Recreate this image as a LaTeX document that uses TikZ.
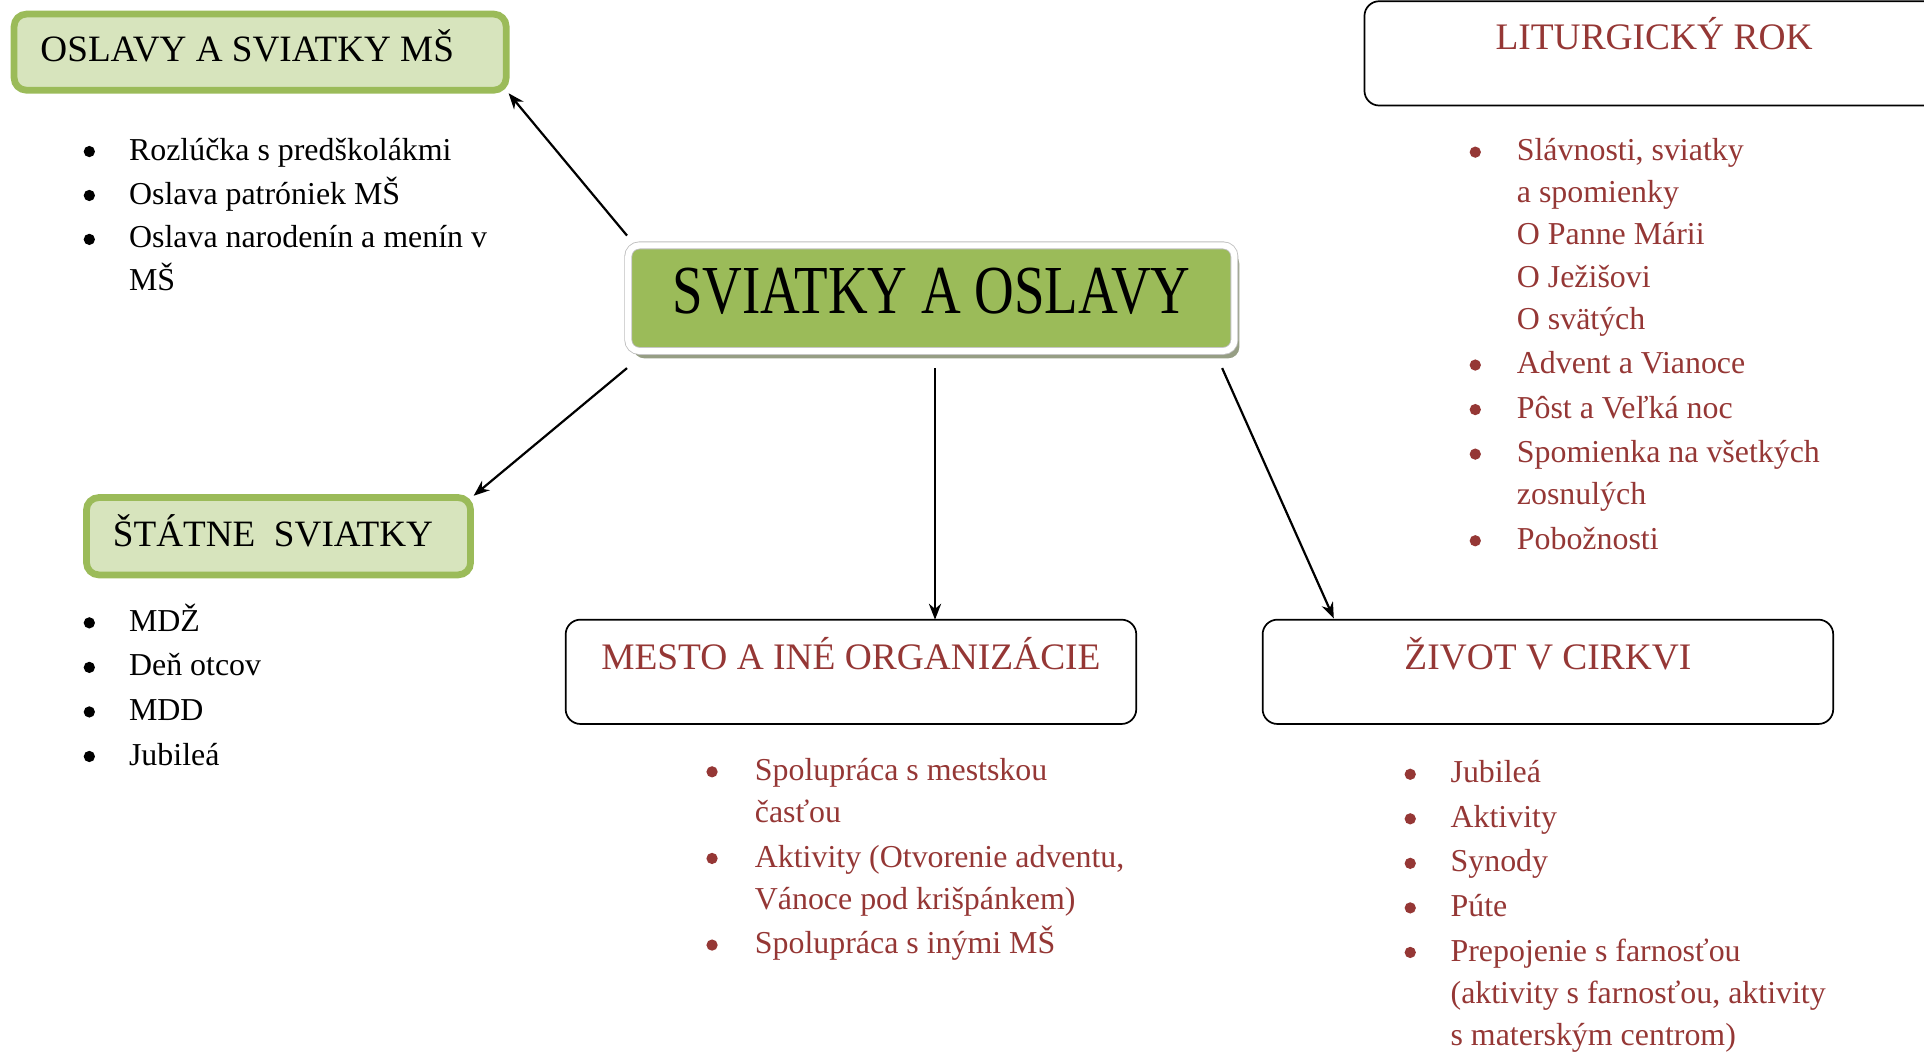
\documentclass[tikz,border=0pt]{standalone}
\usepackage{fontspec}
\setmainfont{Liberation Serif}
\newfontfamily\condensedfont[FakeStretch=0.8]{Liberation Serif}
\usetikzlibrary{shadows,arrows.meta}

\definecolor{accgreen}{RGB}{155,187,89}
\definecolor{palegreen}{RGB}{215,228,189}
\definecolor{darkred}{RGB}{149,55,53}
\definecolor{shadowgray}{RGB}{150,158,132}

\newcommand{\bul}{\tikz[baseline=0pt]\fill (0pt,7pt) circle (4.6pt);}

\tikzset{
	greenbox/.style={draw=accgreen, fill=palegreen, line width=5.5pt, rounded corners=10pt, anchor=north west, inner xsep=21.5pt, inner ysep=0pt, outer sep=0pt, font=\fontsize{30.3}{36}\selectfont},
	whitebox/.style={draw=black, line width=1.4pt, rounded corners=12pt, anchor=north west, inner sep=0pt, outer sep=0pt, text=darkred, font=\fontsize{30.5}{36}\selectfont},
	mainbox/.style={draw=black!25, double=white, double distance=5pt, line width=0.7pt, fill=accgreen, rounded corners=9pt, inner sep=0pt, outer sep=0pt, minimum width=494pt, drop shadow={shadow xshift=4pt, shadow yshift=-6pt, fill=shadowgray, opacity=1}, font=\condensedfont\fontsize{56}{60}\selectfont},
	itemlist/.style={anchor=base west, inner sep=0pt, font=\fontsize{26}{34.3}\selectfont},
	arr/.style={->, >={Stealth[length=13pt, width=10pt]}, line width=1.8pt},
}

\begin{document}
\begin{tikzpicture}[x=1pt, y=-1pt]
	\clip (0,0) rectangle (1568,857);
	% central node
	\node[mainbox, text height=55.5pt, text depth=30.5pt] (main) at (759,243) {SVIATKY A OSLAVY};

	% green boxes on the left
	\node[greenbox, text height=38.5pt, text depth=23.5pt] (oslavy) at (11.5,11.5) {\makebox[358pt][l]{OSLAVY A SVIATKY MŠ}};
	\node[greenbox, text height=40pt, text depth=23pt] (statne) at (70.5,405.5) {\makebox[270pt][l]{ŠTÁTNE\ \ SVIATKY}};

	% white boxes
	\node[whitebox, minimum width=472pt, text height=39.6pt, text depth=45.4pt] (liturgia) at (1112,1) {LITURGICKÝ ROK};
	\node[whitebox, minimum width=465pt, text height=41pt, text depth=44pt] (mesto) at (461,505) {MESTO A INÉ ORGANIZÁCIE};
	\node[whitebox, minimum width=465pt, text height=41pt, text depth=44pt] (zivot) at (1029,505) {ŽIVOT V CIRKVI};

	% lists
	\node[itemlist] (oslavyList) at (68,130.5) {\begin{tabular}[t]{@{}p{37pt}@{}l@{}}
		\bul & Rozlúčka s predškolákmi\\[1.5pt]
		\bul & Oslava patróniek MŠ\\[1.5pt]
		\bul & Oslava narodenín a menín v\\
		& MŠ
	\end{tabular}};
	\node[itemlist] (statneList) at (68,514.6) {\begin{tabular}[t]{@{}p{37pt}@{}l@{}}
		\bul & MDŽ\\[2pt]
		\bul & Deň otcov\\[2pt]
		\bul & MDD\\[2pt]
		\bul & Jubileá
	\end{tabular}};
	\node[itemlist, text=darkred] (liturgiaList) at (1197.5,131) {\begin{tabular}[t]{@{}p{38.5pt}@{}l@{}}
		\bul & Slávnosti, sviatky\\
		& a spomienky\\
		& O Panne Márii\\
		& O Ježišovi\\
		& O svätých\\[2pt]
		\bul & Advent a Vianoce\\[2pt]
		\bul & Pôst a Veľká noc\\[2pt]
		\bul & Spomienka na všetkých\\
		& zosnulých\\[2pt]
		\bul & Pobožnosti
	\end{tabular}};
	\node[itemlist, text=darkred] (mestoList) at (575.5,636) {\begin{tabular}[t]{@{}p{39.5pt}@{}l@{}}
		\bul & Spolupráca s mestskou\\
		& časťou\\[2pt]
		\bul & Aktivity (Otvorenie adventu,\\
		& Vánoce pod krišpánkem)\\[2pt]
		\bul & Spolupráca s inými MŠ
	\end{tabular}};
	\node[itemlist, text=darkred] (zivotList) at (1144.5,638) {\begin{tabular}[t]{@{}p{37.5pt}@{}l@{}}
		\bul & Jubileá\\[2pt]
		\bul & Aktivity\\[2pt]
		\bul & Synody\\[2pt]
		\bul & Púte\\[2pt]
		\bul & Prepojenie s farnosťou\\
		& (aktivity s farnosťou, aktivity\\
		& s materským centrom)
	\end{tabular}};

	% arrows
	\coordinate (down) at ([xshift=3pt, yshift=-14pt]main.south);
	\draw[arr] ([xshift=-1pt, yshift=8pt]main.north west) -- ([xshift=2pt, yshift=-2.5pt]oslavy.south east);
	\draw[arr] ([xshift=-1pt, yshift=-14pt]main.south west) -- ([xshift=2.5pt, yshift=1.5pt]statne.north east);
	\draw[arr] (down) -- (down |- mesto.north);
	\draw[arr] ([xshift=-10pt, yshift=-14pt]main.south east) -- ([xshift=58pt, yshift=1pt]zivot.north west);
\end{tikzpicture}
\end{document}
